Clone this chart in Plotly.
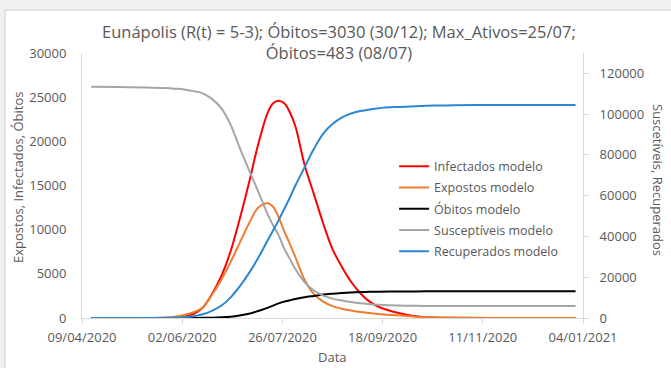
import plotly.graph_objects as go
import datetime as dt

# ---- data ----
start_date = dt.date(2020, 4, 9)
day_offsets = [5, 20, 35, 45, 50, 55, 60, 65, 70, 75, 80, 85, 90, 95, 100, 103, 106, 109,
               112, 115, 120, 125, 130, 135, 140, 145, 150, 155, 160, 170, 180, 190, 200,
               220, 240, 266]
dates = [(start_date + dt.timedelta(days=d)).isoformat() for d in day_offsets]

infectados = [0, 0, 0, 20, 60, 150, 450, 1150, 2700, 4700, 7500, 11200, 15300, 19700, 23200,
              24300, 24600, 24300, 23300, 21700, 17300, 14000, 10700, 7800, 5800, 4100, 2800,
              1850, 1250, 600, 200, 60, 20, 0, 0, 0]
expostos = [0, 0, 5, 60, 150, 350, 650, 1200, 2600, 4300, 6300, 8500, 10700, 12500, 13000,
            12600, 11400, 9800, 8400, 6900, 4300, 2700, 1850, 1350, 1050, 850, 680, 560, 450,
            300, 150, 80, 40, 10, 0, 0]
obitos = [0, 0, 0, 0, 0, 0, 0, 15, 40, 80, 150, 280, 480, 800, 1150, 1400, 1650, 1850, 2000,
          2150, 2350, 2500, 2650, 2750, 2830, 2890, 2930, 2960, 2980, 3000, 3010, 3020, 3025,
          3030, 3030, 3030]
susceptiveis = [113400, 113300, 113100, 112800, 112500, 112100, 111300, 110200, 107500, 103000,
                95000, 83500, 72500, 62000, 51000, 45500, 40500, 34000, 29000, 24000, 17500,
                13500, 11000, 9500, 8600, 7800, 7200, 6800, 6500, 6100, 5950, 5900, 5870, 5850,
                5850, 5850]
recuperados = [0, 0, 0, 50, 150, 400, 900, 1800, 3500, 6000, 10000, 15500, 22000, 29500, 38000,
               43000, 48000, 53500, 59000, 65000, 74000, 83000, 90500, 95200, 98300, 100300,
               101500, 102300, 102900, 103500, 103900, 104200, 104400, 104500, 104500, 104500]

tick_dates = ["2020-04-09", "2020-06-02", "2020-07-26", "2020-09-18", "2020-11-11", "2021-01-04"]
tick_labels = ["09/04/2020", "02/06/2020", "26/07/2020", "18/09/2020", "11/11/2020", "04/01/2021"]
left_ticks = [0, 5000, 10000, 15000, 20000, 25000, 30000]
right_ticks = [0, 20000, 40000, 60000, 80000, 100000, 120000]

title_text = ("Eunápolis (R(t) = 5-3); Óbitos=3030 (30/12); Max_Ativos=25/07;<br>"
              "Óbitos=483 (08/07)")

FONT = "Open Sans"
TXT = "#595959"
AX = "#d9d9d9"

series = [
    ("Infectados modelo", infectados, "#FF0000", "y"),
    ("Expostos modelo", expostos, "#ED7D31", "y"),
    ("Óbitos modelo", obitos, "#000000", "y"),
    ("Susceptíveis modelo", susceptiveis, "#A5A5A5", "y2"),
    ("Recuperados modelo", recuperados, "#2B87D1", "y2"),
]

fig = go.Figure()
for name, vals, color, axis in series:
    fig.add_trace(go.Scatter(x=dates, y=vals, name=name, mode="lines", yaxis=axis,
                             legendgroup=name,
                             line=dict(color=color, width=2, shape="spline")))

fig.update_layout(
    width=671, height=368,
    margin=dict(l=82, r=88, t=53, b=50, autoexpand=False),
    paper_bgcolor="#f0f0f0",
    plot_bgcolor="rgba(0,0,0,0)",
    font=dict(family=FONT, size=13, color=TXT),
    showlegend=True,
    legend=dict(x=0.623, y=0.628, xanchor="left", yanchor="top",
                bgcolor="rgba(0,0,0,0)", font=dict(size=12.5, color=TXT),
                itemwidth=30, tracegroupgap=2, traceorder="grouped"),
    xaxis=dict(type="date", range=["2020-04-09", "2021-01-04"],
               tickvals=tick_dates, ticktext=tick_labels, automargin=False,
               showgrid=False, zeroline=False, showline=True, linecolor=AX, linewidth=1,
               ticks="outside", ticklen=5, tickcolor=AX, ticklabelstandoff=2,
               tickfont=dict(size=13, color=TXT)),
    yaxis=dict(range=[0, 30000], tickvals=left_ticks, tickformat="d", automargin=False,
               showgrid=False, zeroline=False,
               showline=True, linecolor=AX, linewidth=1, ticks="",
               ticklabelstandoff=12, tickfont=dict(size=13, color=TXT)),
    yaxis2=dict(range=[0, 130000], tickvals=right_ticks, tickformat="d", automargin=False,
                overlaying="y", side="right",
                showgrid=False, zeroline=False, showline=True, linecolor=AX, linewidth=1,
                ticks="outside", ticklen=5, tickcolor=AX,
                ticklabelstandoff=8, tickfont=dict(size=13, color=TXT)),
    shapes=[dict(type="rect", xref="paper", yref="paper", x0=-0.1537, x1=1.2, y0=-0.25,
                 y1=1.162, fillcolor="white", line=dict(color="#d0d0d0", width=1),
                 layer="below")],
    annotations=[
        dict(text=title_text, xref="paper", yref="paper", x=0.513, y=1.0 + (53 - 42) / 265,
             xanchor="center", yanchor="middle", showarrow=False,
             font=dict(size=16.5, color=TXT, family=FONT)),
        dict(text="Data", xref="paper", yref="paper", x=0.5, y=-(357 - 318) / 265,
             xanchor="center", yanchor="middle", showarrow=False,
             font=dict(size=13, color=TXT)),
        dict(text="Expostos, Infectados, Óbitos", xref="paper", yref="paper",
             x=(18 - 82) / 501, y=(318 - 178) / 265, xanchor="center", yanchor="middle",
             textangle=-90, showarrow=False, font=dict(size=13, color=TXT)),
        dict(text="Suscetíveis, Recuperados", xref="paper", yref="paper",
             x=(658 - 82) / 501, y=(318 - 180) / 265, xanchor="center", yanchor="middle",
             textangle=90, showarrow=False, font=dict(size=13, color=TXT)),
    ],
)

fig.write_html("out.html", config={"displayModeBar": False},
               post_script="document.body.style.margin='0';")
